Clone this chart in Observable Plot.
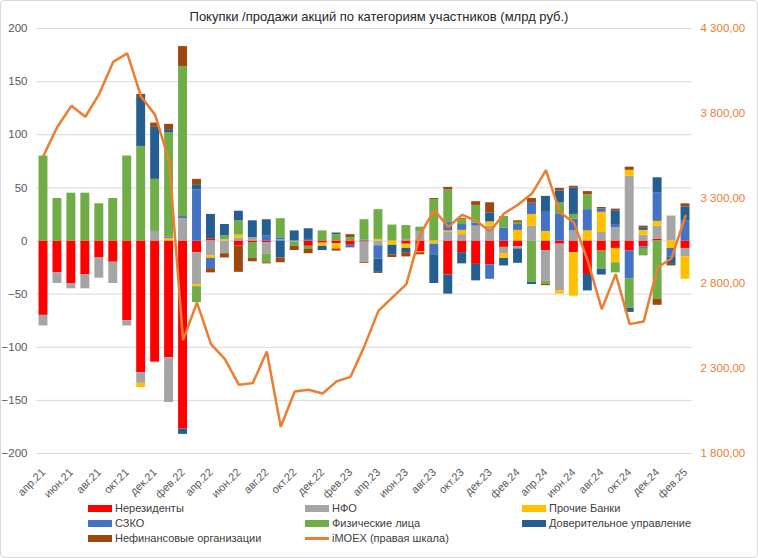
<!DOCTYPE html>
<html><head><meta charset="utf-8">
<script src="https://cdn.jsdelivr.net/npm/d3@7"></script>
<script src="https://cdn.jsdelivr.net/npm/@observablehq/plot@0.6"></script>
<style>
body{margin:0;background:#fff;font-family:"Liberation Sans",Arial,sans-serif;}
#frame{position:absolute;left:0;top:0;width:758px;height:558px;box-sizing:border-box;border:1px solid #d9d9d9;border-radius:4px;}
#chart{position:absolute;left:0;top:0;}
#title{position:absolute;top:9px;left:0;width:758px;text-align:center;font-size:13px;color:#262626;}
#legend{position:absolute;top:500px;left:0;width:758px;height:50px;font-size:11px;color:#404040;}
.item{position:absolute;display:flex;align-items:center;height:15px;white-space:nowrap;}
.sw{display:inline-block;width:24px;height:7px;margin-right:3px;}
.ln{display:inline-block;width:24px;height:3px;margin-right:3px;}
</style></head>
<body>
<div id="frame"></div>
<div id="chart"></div>
<div id="title">Покупки /продажи акций по категориям участников (млрд руб.)</div>
<div id="legend"></div>
<script>
const months = ["апр.21","май.21","июн.21","июл.21","авг.21","сен.21","окт.21","ноя.21","дек.21",
"янв.22","фев.22","мар.22","апр.22","май.22","июн.22","июл.22","авг.22","сен.22","окт.22","ноя.22","дек.22",
"янв.23","фев.23","мар.23","апр.23","май.23","июн.23","июл.23","авг.23","сен.23","окт.23","ноя.23","дек.23",
"янв.24","фев.24","мар.24","апр.24","май.24","июн.24","июл.24","авг.24","сен.24","окт.24","ноя.24","дек.24",
"янв.25","фев.25"];
const seriesNames = ["Нерезиденты","НФО","Прочие Банки","СЗКО","Физические лица","Доверительное управление","Нефинансовые организации"];
const seriesColors = ["#FF0000","#A5A5A5","#FFC000","#4472C4","#70AD47","#255E91","#9E480E"];
const nonResidents = [-70,-30,-40,-32,-16,-20,-75,-124,-114,-110,-177,-11, 2,0,-4.5,-1.5,-1.5,0,0,-5,-2,-2.5,-4,-1, 0,0,-3,-10,0,-32,-11,-22,-22.5,-6,-5.5,0, -9,-3,-11,-31.5,-9.5,-7,-9.5,-5.5,1.5,0,-7];
const nfo = [-10,-10,-5,-13,-19,-20,-5,-10,9,-42,21,-30, -14,-12,2.5,3,-11,1,-1,0,0,0,0,-19, -4.5,0,1.5,9,0,8,6,14,14,-6,-2,14, -29,-44,9.5,0,8,12.5,61,5.5,12.5,23.5,-8];
const otherBanks = [0,0,0,0,0,0,0,-4,0,2.5,0,-2, -2.5,1,3,0,0,0,0,0,-3,-5,0,0, 1.5,-4,-4,-1,-3,1.5,4,0,4,-4.5,10,11, 9,-3,-41,9.5,19,-13.5,5.5,4.5,4.5,-7,-21];
const szko = [0,0,0,0,0,0,0,0,0,1.3,2,48, -9.5,0,0,0,5,2,0,1.5,0,0,-2.5,1, -12.5,0,0,0,-10,8.5,5.5,3,-13.5,12,5.5,10.5, 18,25,11,20,3,3,-26,-1.5,27,-8,19];
const individuals = [80,40,45,45,35,40,80,89,49,98,141,-15, 0,4,13.5,-15,-8,18,-4,-3,9.5,6,3,19, 28,15,13,4,39,30,4.5,16.5,0,11,2,-39, -2.5,11,4.5,14,-17,-9.5,-27.7,-7,-55,0,0];
const trustMgmt = [0,0,0,0,0,0,0,46,49,3,-5,5, 23,10.5,9,16,15,-16,9.5,10,-4,1.5,0,0, -12.5,-9,-4,0,-27,-18,-10.5,-15.5,8.5,-7,-13.5,-2, 15,11,25,-15.5,-5.5,13,-4,2.5,14,-7,13];
const nonFinancial = [0,0,0,0,0,0,0,3,4,5,19,5, -4,-4,-25,-3,-1,-4.5,-4,-4,0,-2,3,-1, -1,-2.5,-4,-2,1,2.5,1,3.5,9.5,0,1.5,4.5, -1.5,2.5,1.5,3,1.5,1.5,3,1.5,-5.5,-1.5,3];
const imoex = [3551,3722,3845,3781,3916,4104,4154,3898,3792,3522,2467,2688, 2443,2355,2204,2214,2400,1957,2165,2175,2153,2224,2251,2433, 2639,2718,2796,3090,3232,3133,3204,3169,3106,3212,3263,3329, 3467,3218,3159,2933,2649,2855,2561,2576,2894,2949,3198];
const leftTicks = [-200,-150,-100,-50,0,50,100,150,200];
const rightTicks = [1800,2300,2800,3300,3800,4300];
const xTickLabels = months.filter((d,i)=>i%2===0);

const seriesValues = [nonResidents,nfo,otherBanks,szko,individuals,trustMgmt,nonFinancial];
const rows = [];
seriesNames.forEach((s,k)=>{
  seriesValues[k].forEach((v,i)=>{ if (v !== 0) rows.push({month: months[i], series: s, value: v}); });
});
// right scale [1800,4300] mapped onto left scale [-200,200]
const toLeft = v => (v - 1800) * 400 / 2500 - 200;
const fromLeft = y => (y + 200) * 2500 / 400 + 1800;
const lineRows = imoex.map((v,i)=>({month: months[i], y: toLeft(v)}));
const ruFmt = d3.formatLocale({decimal: ",", thousands: " ", grouping: [3], currency: ["",""]}).format(",.2f");

const chart = Plot.plot({
  width: 758, height: 500,
  marginLeft: 36, marginRight: 66, marginTop: 28, marginBottom: 47,
  style: {fontFamily: "'Liberation Sans', Arial, sans-serif", fontSize: "11.5px", color: "#595959", background: "transparent"},
  x: {type: "band", domain: months, paddingInner: 0.36, paddingOuter: 0.18, label: null},
  y: {domain: [-200, 200], label: null},
  color: {domain: seriesNames, range: seriesColors},
  marks: [
    Plot.ruleY(leftTicks, {stroke: "#d9d9d9", strokeWidth: 1}),
    Plot.barY(rows, {x: "month", y: "value", fill: "series", order: seriesNames}),
    Plot.line(lineRows, {x: "month", y: "y", stroke: "#ED7D31", strokeWidth: 2.5, strokeLinejoin: "miter"}),
    Plot.axisY({anchor: "left", ticks: leftTicks, tickSize: 0, tickPadding: 9, label: null}),
    Plot.axisY({anchor: "right", ticks: rightTicks.map(toLeft), tickFormat: y => ruFmt(Math.round(fromLeft(y))), tickSize: 0, tickPadding: 8, label: null, color: "#ED7D31"}),
    Plot.axisX({ticks: xTickLabels, tickRotate: -45, tickSize: 0, tickPadding: 17, label: null, fontSize: 11, textAnchor: "end"})
  ]
});
document.getElementById("chart").appendChild(chart);

// legend
const legend = document.getElementById("legend");
const cols = [88, 305, 522];
const rowsY = [508, 523, 538];
const items = seriesNames.map((s,k)=>({label: s, color: seriesColors[k], type: "rect"}));
items.push({label: "iMOEX (правая шкала)", color: "#ED7D31", type: "line"});
items.forEach((it,i)=>{
  const el = document.createElement("div");
  el.className = "item";
  el.style.left = cols[i % 3] + "px";
  el.style.top = (rowsY[Math.floor(i / 3)] - 7.5 - 500) + "px";
  const sw = document.createElement("span");
  sw.className = it.type === "rect" ? "sw" : "ln";
  sw.style.background = it.color;
  el.appendChild(sw);
  el.appendChild(document.createTextNode(it.label));
  legend.appendChild(el);
});
</script>
</body></html>
